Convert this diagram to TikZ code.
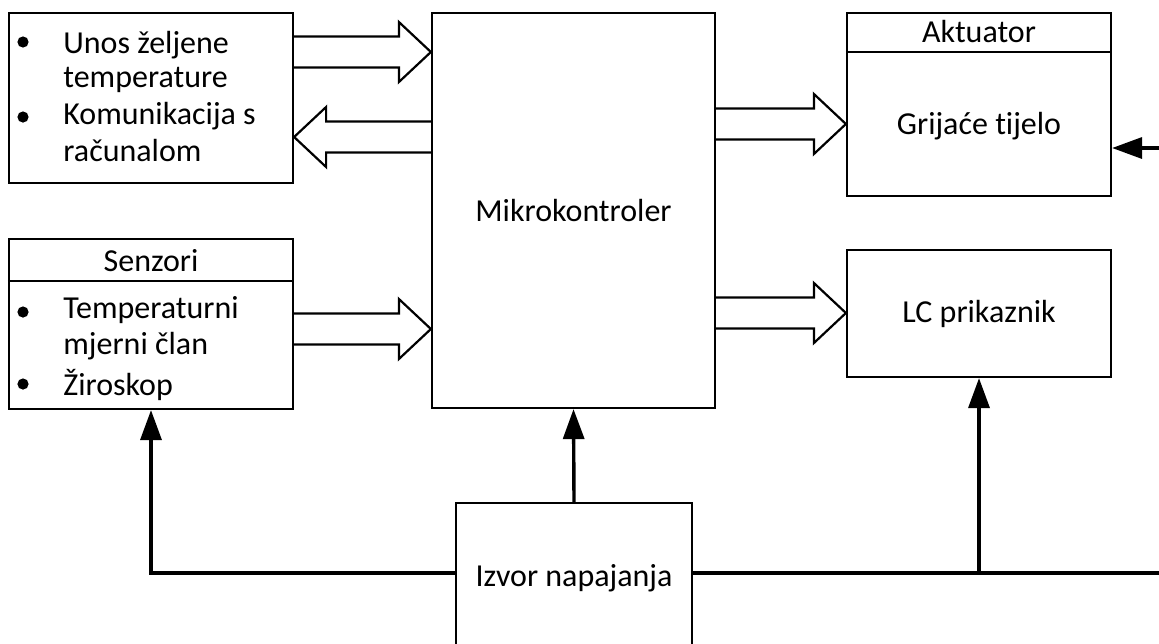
\documentclass[tikz,border=0pt]{standalone}
\usepackage{fontspec}
\setmainfont[Ligatures=NoCommon]{Carlito}
\usetikzlibrary{calc,arrows.meta}

\newcommand{\busarrow}[2]{%
  \coordinate (hb) at ($(#2)!16pt!(#1)$);
  \draw[bus] ($(#1)!7.75pt!90:(#2)$) -- ($(hb)!7.75pt!-90:(#1)$) -- ($(hb)!15pt!-90:(#1)$)
    -- (#2) -- ($(hb)!15pt!90:(#1)$) -- ($(hb)!7.75pt!90:(#1)$) -- ($(#1)!7.75pt!-90:(#2)$);}

\begin{document}
\begin{tikzpicture}[x=0.5pt, y=-0.5pt,
    box/.style={draw, line width=1.1pt, inner sep=0pt, font=\fontsize{16}{19}\selectfont},
    txt/.style={anchor=base west, inner sep=0pt, font=\fontsize{16}{19}\selectfont},
    bus/.style={line width=1.1pt, line join=miter},
    pwr/.style={line width=1.7pt},
    tip/.style={-{Triangle[length=15pt, width=10.5pt]}}]
	\useasboundingbox (0,0) rectangle (1159,643);
	\clip (0,0) rectangle (1159,643);
	\node[box, minimum width=142pt, minimum height=85pt] (ui) at (151,98) {};
	\node[box, minimum width=141.5pt, minimum height=197.5pt] (mcu) at (573.5,210.5) {Mikrokontroler};
	\node[box, minimum width=132pt, minimum height=91.5pt] (akt) at (979,104.5) {};
	\node[box, minimum width=132pt, minimum height=63.5pt] (lcd) at (979,313.5) {LC prikaznik};
	\node[box, minimum width=142pt, minimum height=85pt] (sen) at (151,324) {};
	\node[box, minimum width=118pt, minimum height=97pt] (psu) at (574,600) {};
	\node[box, draw=none] (psutext) at (574,578) {Izvor napajanja};
	\draw[line width=1.1pt] (akt.west |- 0,52) -- (akt.east |- 0,52);
	\draw[line width=1.1pt] (sen.west |- 0,281) -- (sen.east |- 0,281);
	\node[box, draw=none] (akthead) at (979,32) {Aktuator};
	\node[box, draw=none] (aktbody) at (979,126) {Grijaće tijelo};
	\node[box, draw=none] (senhead) at (151,261) {Senzori};
	\foreach \n\y\t in {u1/53/Unos željene, u2/87/temperature, u3/124/Komunikacija s, u4/161/računalom,
		s1/318/Temperaturni, s2/354/mjerni član, s3/395/Žiroskop}{
		\node[txt] (\n) at (63,\y) {\t};
	}
	\foreach \y in {42,117,312,384}{
		\fill (23,\y) circle (2.8pt);
	}
	\busarrow{ui.east |- 0,52}{mcu.west |- 0,52}
	\busarrow{mcu.west |- 0,137}{ui.east |- 0,137}
	\busarrow{mcu.east |- 0,124}{akt.west |- 0,124}
	\busarrow{mcu.east |- 0,313}{lcd.west |- 0,313}
	\busarrow{sen.east |- 0,329}{mcu.west |- 0,329}
	\coordinate (busl) at (psu.west |- 0,573);
	\coordinate (busr) at (psu.east |- 0,573);
	\coordinate (rend) at (1170,573);
	\coordinate (tap) at (lcd.south |- busr);
	\coordinate (rin) at (1170,148);
	\draw[pwr, tip] (psu.north) -- (mcu.south);
	\draw[pwr, tip] (busl) -| (sen.south);
	\draw[pwr] (busr) -- (rend);
	\draw[pwr, tip] (tap) -- (lcd.south);
	\draw[pwr, tip] (rin) -- (akt.east |- rin);
\end{tikzpicture}
\end{document}
